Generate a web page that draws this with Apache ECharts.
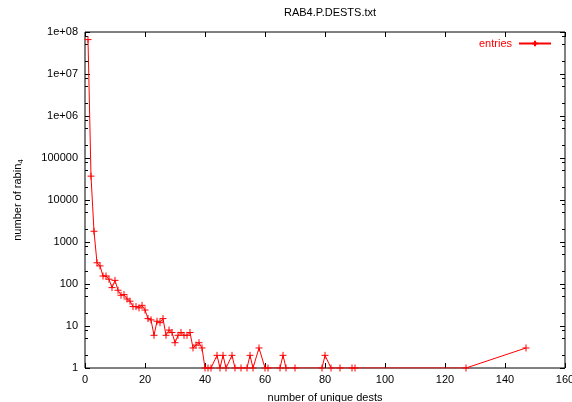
<!DOCTYPE html>
<html>
<head>
<meta charset="utf-8">
<script src="https://cdn.jsdelivr.net/npm/echarts@6/dist/echarts.min.js"></script>
<style>html,body{margin:0;padding:0;background:#fff}#c{width:572px;height:402px}</style>
</head>
<body>
<div id="c"></div>
<script>
var destCounts = [1,2,3,4,5,6,7,8,9,10,11,12,13,14,15,16,17,18,19,20,21,22,23,24,25,26,27,28,29,30,31,32,33,34,35,36,37,38,39,40,41,42,44,45,46,47,49,50,52,54,55,56,58,60,61,65,66,67,70,79,80,82,85,89,90,127,147];
var entries = [66000000,37000,1800,320,270,155,155,130,82,122,71,54,56,44,39,29,29,27,31,24,15,14,6,13,12,15,6,8,7,4,6,7,6,6,7,3,3.5,4,3,1,1,1,2,1,2,1,2,1,1,1,2,1,3,1,1,1,2,1,1,1,2,1,1,1,1,1,3];
var xTicks = [0,20,40,60,80,100,120,140,160];
var yTickValues = [1,10,100,1000,10000,100000,1000000,10000000,100000000];
var yTickLabels = ['1','10','100','1000','10000','100000','1e+06','1e+07','1e+08'];
var yMinorTicks = [2,5,8,20,50,80,200,500,800,2000,5000,8000,20000,50000,80000,200000,500000,800000,2000000,5000000,8000000,20000000,50000000,80000000];

var font = "'Liberation Sans', Arial, sans-serif";
var red = '#ff0000';
var seriesData = destCounts.map(function(x, i){ return [x, entries[i]]; });
var plus = 'path://M0,-5L0,5M-5,0L5,0';

function yAx(pos, ticks, len, labels){
  return {
    type: 'log', logBase: 10, min: 1, max: 100000000, position: pos,
    axisLine: {show: false},
    splitLine: {show: false},
    axisTick: {show: true, inside: true, length: len, customValues: ticks, lineStyle: {color: '#000', width: 1}},
    axisLabel: labels ? {show: true, customValues: yTickValues, margin: 7, fontFamily: font, fontSize: 11, color: '#000',
      formatter: function(v){ var i = -1; for (var k=0;k<yTickValues.length;k++){ if (Math.abs(Math.log10(v)-Math.log10(yTickValues[k]))<1e-6) i=k; } return i>=0 ? yTickLabels[i] : ''; }} : {show: false}
  };
}

var option = {
  animation: false,
  backgroundColor: '#fff',
  title: {
    text: 'RAB4.P.DESTS.txt', left: 325, top: 2, textAlign: 'center',
    textStyle: {fontFamily: font, fontSize: 11, fontWeight: 'normal', color: '#000'}
  },
  legend: {
    data: ['entries'], right: 20, top: 38, padding: 0, align: 'right', itemWidth: 32, itemHeight: 7, itemGap: 8,
    textStyle: {fontFamily: font, fontSize: 11, color: red, padding: [0, 2, 0, 0]}
  },
  grid: {left: 85, right: 7, top: 32, bottom: 34, outerBoundsMode: 'none', containLabel: false, show: true, borderColor: '#000', borderWidth: 1, backgroundColor: 'transparent'},
  xAxis: [
    {type: 'value', min: 0, max: 160, interval: 20, position: 'bottom',
     name: 'number of unique dests', nameLocation: 'middle', nameGap: 24,
     nameTextStyle: {fontFamily: font, fontSize: 11, color: '#000'},
     axisLine: {show: false}, splitLine: {show: false},
     axisTick: {inside: true, length: 5, lineStyle: {color: '#000'}},
     axisLabel: {margin: 6, fontFamily: font, fontSize: 11, color: '#000', showMaxLabel: true}},
    {type: 'value', min: 0, max: 160, interval: 20, position: 'top',
     axisLine: {show: false}, splitLine: {show: false},
     axisTick: {inside: true, length: 5, lineStyle: {color: '#000'}},
     axisLabel: {show: false}}
  ],
  yAxis: [
    Object.assign(yAx('left', yTickValues, 5, true), {
      name: 'number of rabin{sub|4}', nameLocation: 'middle', nameGap: 60,
      nameTextStyle: {fontFamily: font, fontSize: 11, color: '#000',
        rich: {sub: {fontFamily: font, fontSize: 8, color: '#000', verticalAlign: 'bottom', padding: [6,0,0,0]}}}
    }),
    yAx('left', yMinorTicks, 3, false),
    yAx('right', yTickValues, 5, false),
    yAx('right', yMinorTicks, 3, false)
  ],
  series: [{
    name: 'entries', type: 'line', xAxisIndex: 0, yAxisIndex: 0,
    data: seriesData,
    symbol: plus, symbolSize: 7, showSymbol: true,
    lineStyle: {color: red, width: 1},
    itemStyle: {color: red, borderColor: red, borderWidth: 1},
    emphasis: {disabled: true}
  }]
};
var chart = echarts.init(document.getElementById('c'), null, {renderer: 'canvas'});
chart.setOption(option);
</script>
</body>
</html>
